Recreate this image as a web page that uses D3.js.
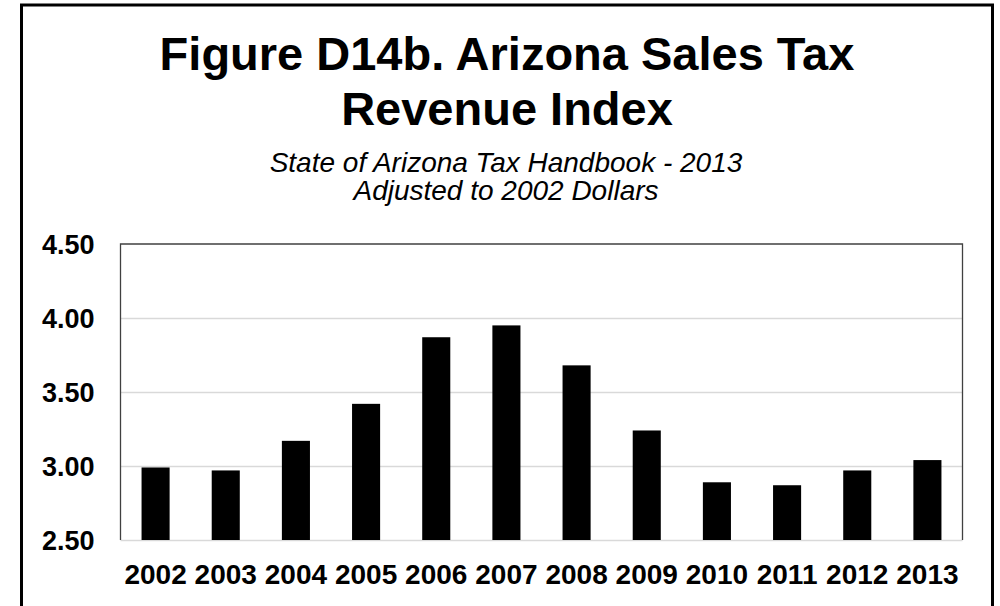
<!DOCTYPE html>
<html>
<head>
<meta charset="utf-8">
<script src="https://cdn.jsdelivr.net/npm/d3@7"></script>
<style>
  html, body { margin: 0; padding: 0; background: #fff; }
  svg { display: block; }
  text { font-family: "Liberation Sans", Arial, sans-serif; fill: #000; }
</style>
</head>
<body>
<script>
const years = ["2002","2003","2004","2005","2006","2007","2008","2009","2010","2011","2012","2013"];
const values = [2.99, 2.97, 3.17, 3.42, 3.87, 3.95, 3.68, 3.24, 2.89, 2.87, 2.97, 3.04];
const yTicks = [2.5, 3.0, 3.5, 4.0, 4.5];
const titleLines = ["Figure D14b. Arizona Sales Tax", "Revenue Index"];
const subtitleLines = ["State of Arizona Tax Handbook - 2013", "Adjusted to 2002 Dollars"];

const W = 1000, H = 606;
const plot = { left: 120.5, right: 962.5, top: 244, bottom: 540 };

const svg = d3.select("body").append("svg").attr("width", W).attr("height", H);

// outer frame
svg.append("rect")
  .attr("x", 21.5).attr("y", 5).attr("width", 971).attr("height", 640)
  .attr("fill", "none").attr("stroke", "#000").attr("stroke-width", 3);

// titles
svg.selectAll("text.title").data(titleLines).enter().append("text")
  .attr("class", "title")
  .attr("x", 507).attr("y", (d, i) => 70 + i * 55)
  .attr("text-anchor", "middle")
  .style("font-size", "47px").style("font-weight", "bold")
  .text(d => d);

svg.selectAll("text.sub").data(subtitleLines).enter().append("text")
  .attr("class", "sub")
  .attr("x", 506).attr("y", (d, i) => 172 + i * 28)
  .attr("text-anchor", "middle")
  .style("font-size", "28px").style("font-style", "italic")
  .text(d => d);

const x = d3.scaleBand().domain(years).range([plot.left, plot.right]).paddingInner(0.6).paddingOuter(0.3);
const y = d3.scaleLinear().domain([2.5, 4.5]).range([plot.bottom, plot.top]);

// gridlines
svg.append("g").selectAll("line").data(yTicks.filter(t => t < 4.5)).enter().append("line")
  .attr("x1", plot.left).attr("x2", plot.right)
  .attr("y1", d => y(d) + 0.5).attr("y2", d => y(d) + 0.5)
  .attr("stroke", "#d9d9d9").attr("stroke-width", 1.3);

// plot frame (top, left, right)
svg.append("path")
  .attr("d", `M${plot.left},${plot.bottom} V${plot.top} H${plot.right} V${plot.bottom}`)
  .attr("fill", "none").attr("stroke", "#404040").attr("stroke-width", 1.3);

// bars
svg.append("g").selectAll("rect").data(values).enter().append("rect")
  .attr("x", (d, i) => x(years[i]))
  .attr("width", x.bandwidth())
  .attr("y", d => y(d))
  .attr("height", d => y(2.5) - y(d))
  .attr("fill", "#000");

// y axis
const yAxis = d3.axisLeft(y).tickValues(yTicks).tickFormat(d3.format(".2f")).tickSize(0).tickPadding(26);
const gy = svg.append("g").attr("transform", `translate(${plot.left},0)`).call(yAxis);
gy.select(".domain").remove();
gy.selectAll("text").style("font-size", "27px").style("font-weight", "bold")
  .attr("font-family", null).attr("dy", "0.35em");

// x axis
const xAxis = d3.axisBottom(x).tickSize(0).tickPadding(24);
const gx = svg.append("g").attr("transform", `translate(0,${plot.bottom})`).call(xAxis);
gx.select(".domain").remove();
gx.selectAll("text").style("font-size", "28px").style("font-weight", "bold")
  .attr("font-family", null).attr("dy", "0.71em");
</script>
</body>
</html>
